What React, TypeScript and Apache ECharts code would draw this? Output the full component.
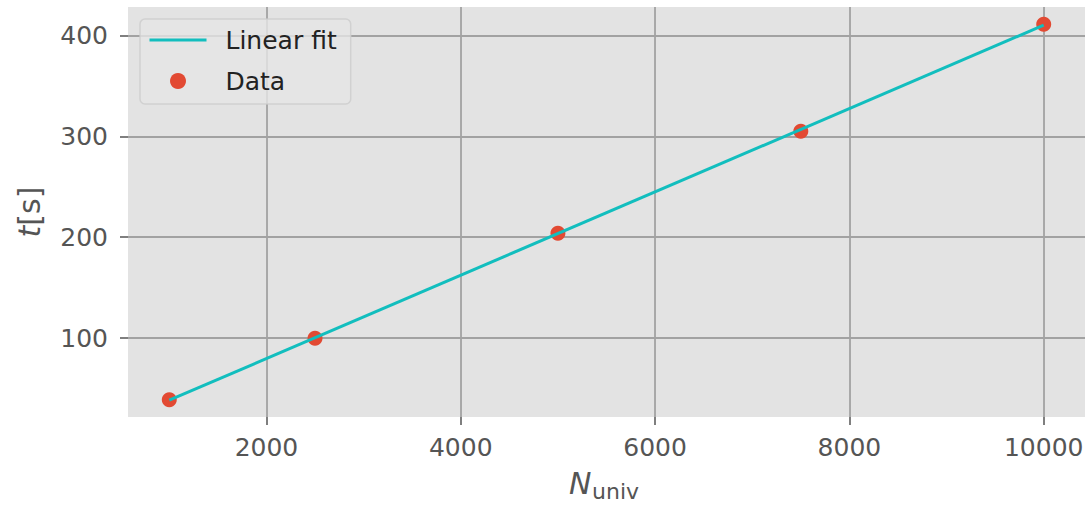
import { useEffect, useRef } from 'react';
import * as echarts from 'echarts';

// Measured run times against universe size
const sizes = [1000, 2500, 5000, 7500, 10000];
const times = [39, 100, 204, 305, 411];

// Straight-line fit evaluated at the ends of the measured range
const fitSizes = [1000, 10000];
const fitTimes = [38.6, 410];

// Axis ticks and visible ranges
const xTicks = [2000, 4000, 6000, 8000, 10000];
const yTicks = [100, 200, 300, 400];
const xRange = [575, 10425];
const yRange = [22, 428];

const FONT = "'DejaVu Sans', 'Noto Sans', sans-serif";
const TICK_GREY = '#555555';
const GRID_GREY = '#a2a2a2';
const FIT_COLOR = '#12BEBE';

export default function App() {
  const ref = useRef<HTMLDivElement>(null);

  useEffect(() => {
    if (!ref.current) return;
    const chart = echarts.init(ref.current, undefined, { renderer: 'svg' });

    const plain = (v: number) => String(v);

    const option = {
      animation: false,
      backgroundColor: '#ffffff',
      textStyle: { fontFamily: FONT },
      grid: {
        left: 128,
        right: 4,
        top: 7,
        bottom: 89,
        show: true,
        backgroundColor: '#E3E3E3',
        borderWidth: 0,
      },
      legend: {
        orient: 'vertical',
        left: 140,
        top: 19,
        data: [{ name: 'Linear fit', itemStyle: { opacity: 0 } }, 'Data'],
        itemWidth: 57,
        itemHeight: 16,
        itemGap: 15,
        padding: [8, 14, 10, 8],
        backgroundColor: 'rgba(229,229,229,0.8)',
        borderColor: 'rgba(204,204,204,0.8)',
        borderWidth: 1.5,
        borderRadius: 5,
        lineStyle: { width: 3 },
        textStyle: {
          fontFamily: FONT,
          fontSize: 25,
          color: '#222222',
          lineHeight: 26,
          padding: [0, 0, 0, 14],
        },
      },
      // x-axis title: italic N with an upright "univ" subscript
      graphic: [
        {
          type: 'text',
          x: 569,
          y: 483,
          silent: true,
          style: {
            text: 'N',
            fontFamily: FONT,
            fontSize: 30,
            fontStyle: 'italic',
            fill: TICK_GREY,
            align: 'left',
            verticalAlign: 'middle',
          },
        },
        {
          type: 'text',
          x: 592,
          y: 491,
          silent: true,
          style: {
            text: 'univ',
            fontFamily: FONT,
            fontSize: 22,
            fill: TICK_GREY,
            align: 'left',
            verticalAlign: 'middle',
          },
        },
      ],
      xAxis: {
        type: 'value',
        min: xRange[0],
        max: xRange[1],
        axisLine: { show: false },
        axisTick: {
          show: true,
          length: 8,
          customValues: xTicks,
          lineStyle: { color: TICK_GREY, width: 1.5 },
        },
        axisLabel: {
          customValues: xTicks,
          formatter: plain,
          color: TICK_GREY,
          fontSize: 25,
          fontFamily: FONT,
          margin: 18,
        },
        splitLine: { show: true, lineStyle: { color: GRID_GREY, width: 1.8 } },
      },
      yAxis: {
        type: 'value',
        min: yRange[0],
        max: yRange[1],
        axisLine: { show: false },
        axisTick: {
          show: true,
          length: 8,
          customValues: yTicks,
          lineStyle: { color: TICK_GREY, width: 1.5 },
        },
        axisLabel: {
          customValues: yTicks,
          formatter: plain,
          color: TICK_GREY,
          fontSize: 25,
          fontFamily: FONT,
          margin: 20,
        },
        splitLine: { show: true, lineStyle: { color: GRID_GREY, width: 1.8 } },
        name: '{i|t}{r|[s]}',
        nameLocation: 'middle',
        nameRotate: 90,
        nameGap: 84,
        nameTextStyle: {
          rich: {
            i: { fontFamily: FONT, fontSize: 30, fontStyle: 'italic', color: TICK_GREY },
            r: { fontFamily: FONT, fontSize: 30, color: TICK_GREY },
          },
        },
      },
      series: [
        {
          type: 'scatter',
          name: 'Data',
          data: sizes.map((x, i) => [x, times[i]]),
          symbol: 'circle',
          symbolSize: 15,
          itemStyle: { color: '#E24A33', opacity: 1 },
          z: 2,
        },
        {
          type: 'line',
          name: 'Linear fit',
          data: fitSizes.map((x, i) => [x, fitTimes[i]]),
          symbol: 'none',
          showSymbol: false,
          lineStyle: { color: FIT_COLOR, width: 3 },
          itemStyle: { color: FIT_COLOR },
          z: 3,
        },
      ],
    };

    chart.setOption(option);
    return () => chart.dispose();
  }, []);

  return (
    <div
      ref={ref}
      style={{ position: 'fixed', left: 0, top: 0, width: 1089, height: 506 }}
    />
  );
}
